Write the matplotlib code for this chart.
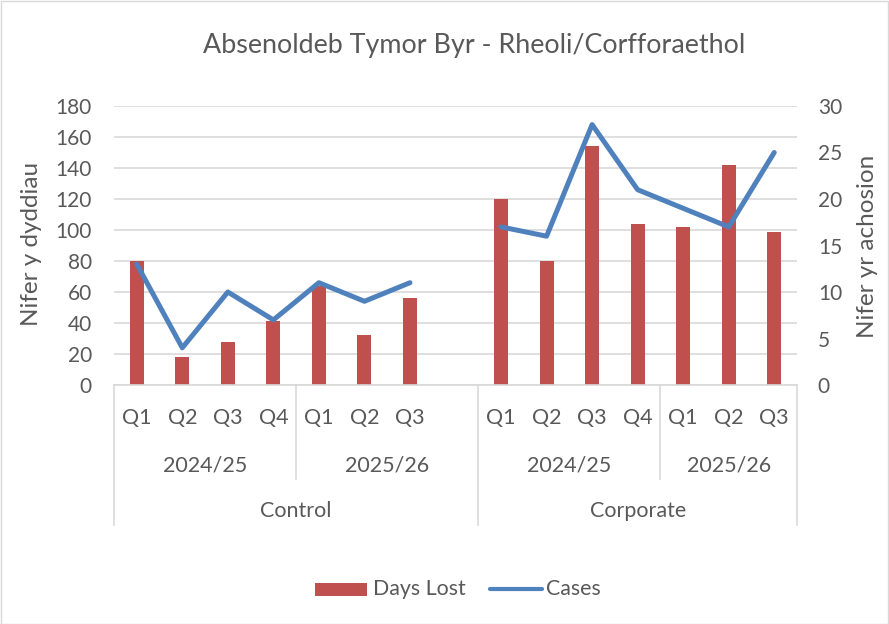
import matplotlib
matplotlib.use("Agg")
import matplotlib.pyplot as plt
from matplotlib.patches import Rectangle
from matplotlib.lines import Line2D
import matplotlib.transforms as mtransforms

plt.rcParams['font.family'] = ['Lato', 'DejaVu Sans']

# ---- data ----
groups = ["Control", "Corporate"]
years = ["2024/25", "2025/26"]
quarters_control = ["Q1", "Q2", "Q3", "Q4", "Q1", "Q2", "Q3", ""]
quarters_corporate = ["Q1", "Q2", "Q3", "Q4", "Q1", "Q2", "Q3"]
days_lost_control = [80, 18, 28, 41, 64, 32, 56]
days_lost_corporate = [120, 80, 154, 104, 102, 142, 99]
cases_control = [13, 4, 10, 7, 11, 9, 11]
cases_corporate = [17, 16, 28, 21, 19, 17, 25]
left_ticks = [0, 20, 40, 60, 80, 100, 120, 140, 160, 180]
right_ticks = [0, 5, 10, 15, 20, 25, 30]

title = "Absenoldeb Tymor Byr - Rheoli/Corfforaethol"
ylabel_left = "Nifer y dyddiau"
ylabel_right = "Nifer yr achosion"
legend_labels = ["Days Lost", "Cases"]

BAR_C = "#C0504D"
LINE_C = "#4F81BD"
GRID_C = "#D9D9D9"
TXT_C = "#595959"

W, H = 889, 624
fig = plt.figure(figsize=(W / 100, H / 100), dpi=100)
fig.patch.set_facecolor("white")
fig.add_artist(Rectangle((0.5 / W, 0.5 / H), 1 - 1.5 / W, 1 - 1.5 / H, transform=fig.transFigure,
                         fill=False, edgecolor=GRID_C, linewidth=1))

def fx(px):
    return px / W

def fy(py):
    return 1 - py / H

L, R, T, B = 114, 797, 106, 385
ax = fig.add_axes([fx(L), fy(B), (R - L) / W, (B - T) / H])

n_ctrl = len(quarters_control)
x_ctrl = list(range(len(days_lost_control)))
x_corp = [n_ctrl + i for i in range(len(days_lost_corporate))]
n_total = n_ctrl + len(quarters_corporate)

ax.bar(x_ctrl, days_lost_control, width=0.31, color=BAR_C, zorder=2)
ax.bar(x_corp, days_lost_corporate, width=0.31, color=BAR_C, zorder=2)
ax.set_xlim(-0.5, n_total - 0.5)
ax.set_ylim(0, 180)
ax.set_yticks(left_ticks)
ax.yaxis.grid(True, color=GRID_C, linewidth=1.2, zorder=0)
ax.set_axisbelow(True)
for s in ["top", "right", "left"]:
    ax.spines[s].set_visible(False)
ax.spines["bottom"].set_color(GRID_C)
ax.spines["bottom"].set_linewidth(1.2)
ax.tick_params(axis="y", length=0, labelsize=15, labelcolor=TXT_C, pad=16)
ax.set_xticks([])

ax2 = ax.twinx()
ax2.plot(x_ctrl, cases_control, color=LINE_C, linewidth=3.6, solid_capstyle="round",
         solid_joinstyle="round", zorder=3)
ax2.plot(x_corp, cases_corporate, color=LINE_C, linewidth=3.6, solid_capstyle="round",
         solid_joinstyle="round", zorder=3)
ax2.set_ylim(0, 30)
ax2.set_yticks(right_ticks)
for s in ["top", "right", "left", "bottom"]:
    ax2.spines[s].set_visible(False)
ax2.tick_params(axis="y", length=0, labelsize=15, labelcolor=TXT_C, pad=15)

fig.text(fx(31), fy(244), ylabel_left, rotation=90, ha="center", va="center",
         fontsize=17.5, color=TXT_C)
fig.text(fx(868), fy(246), ylabel_right, rotation=90, ha="center", va="center",
         fontsize=17.5, color=TXT_C)

# ---- multi-level category axis ----
trans = mtransforms.blended_transform_factory(ax.transData, fig.transFigure)
CAT_FS = 15.5

all_q = quarters_control + quarters_corporate
for i, q in enumerate(all_q):
    if q:
        ax.text(i, fy(418), q, transform=trans, ha="center", va="center",
                fontsize=CAT_FS, color=TXT_C, clip_on=False)

year_spans = [(0, 4), (4, n_ctrl), (n_ctrl, n_ctrl + 4), (n_ctrl + 4, n_total)]
year_names = [years[0], years[1], years[0], years[1]]
for (a, b), nm in zip(year_spans, year_names):
    ax.text((a + b - 1) / 2, fy(465), nm, transform=trans, ha="center", va="center",
            fontsize=CAT_FS, color=TXT_C, clip_on=False)

group_spans = [(0, n_ctrl), (n_ctrl, n_total)]
for (a, b), nm in zip(group_spans, groups):
    ax.text((a + b - 1) / 2, fy(511), nm, transform=trans, ha="center", va="center",
            fontsize=CAT_FS, color=TXT_C, clip_on=False)

for xb in [-0.5, n_ctrl - 0.5, n_total - 0.5]:
    fig.add_artist(Line2D([xb, xb], [fy(B), fy(525)], transform=trans, color=GRID_C, linewidth=1.2))
for xb in [3.5, n_ctrl + 3.5]:
    fig.add_artist(Line2D([xb, xb], [fy(B), fy(479)], transform=trans, color=GRID_C, linewidth=1.2))

fig.text(fx(474), fy(45), title, ha="center", va="center", fontsize=19.4, color=TXT_C)

# ---- legend ----
fig.add_artist(Rectangle((fx(315), fy(595.5)), (367 - 315) / W, 13 / H, transform=fig.transFigure,
                         facecolor=BAR_C, edgecolor="none"))
fig.text(fx(373), fy(589), legend_labels[0], ha="left", va="center", fontsize=15.4, color=TXT_C)
fig.add_artist(Line2D([fx(490), fx(542)], [fy(589), fy(589)], transform=fig.transFigure,
                      color=LINE_C, linewidth=3.0, solid_capstyle="round"))
fig.text(fx(546), fy(589), legend_labels[1], ha="left", va="center", fontsize=15.4, color=TXT_C)

fig.savefig("out.png", dpi=100)
